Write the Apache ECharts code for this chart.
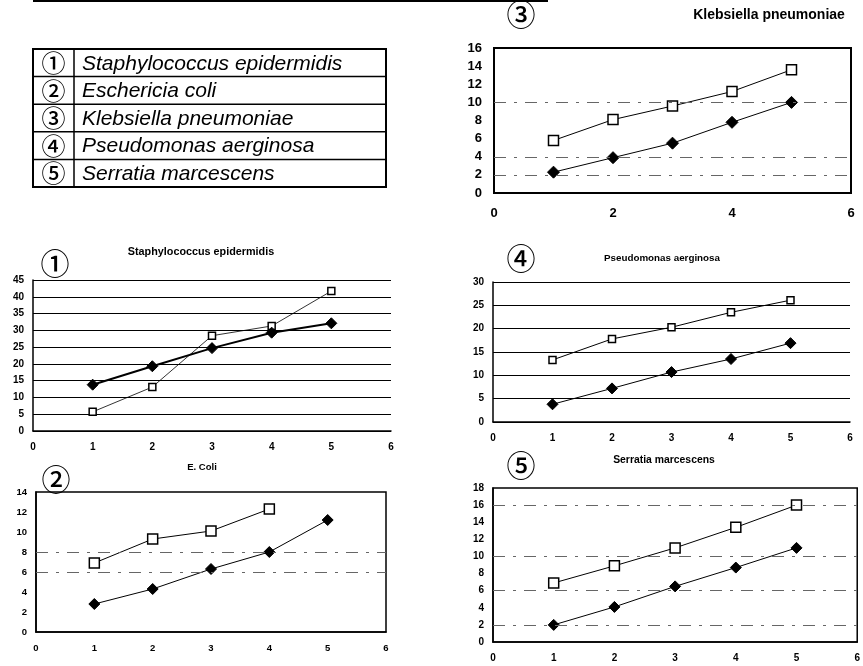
<!DOCTYPE html>
<html>
<head>
<meta charset="utf-8">
<script src="https://cdn.jsdelivr.net/npm/echarts@6/dist/echarts.min.js"></script>
<style>html,body{margin:0;padding:0;background:#fff}#c{width:863px;height:666px}</style>
</head>
<body>
<div id="c"></div>
<script>
// ---- data ----
const xValues = [1, 2, 3, 4, 5];
const legendMarks = ['①', '②', '③', '④', '⑤'];
const legendNames = ['Staphylococcus epidermidis', 'Eschericia coli', 'Klebsiella pneumoniae', 'Pseudomonas aerginosa', 'Serratia marcescens'];
const chartTitles = ['Staphylococcus epidermidis', 'E. Coli', 'Klebsiella pneumoniae', 'Pseudomonas aerginosa', 'Serratia marcescens'];

const staphOpen   = [5.7, 13.1, 28.4, 31.3, 41.7];
const staphFilled = [13.8, 19.3, 24.7, 29.3, 32.1];
const coliOpen    = [6.9, 9.3, 10.1, 12.3, null];
const coliFilled  = [2.8, 4.3, 6.3, 8.0, 11.2];
const klebOpen    = [5.8, 8.1, 9.6, 11.2, 13.6];
const klebFilled  = [2.3, 3.9, 5.5, 7.8, 10.0];
const pseudoOpen  = [13.3, 17.8, 20.3, 23.5, 26.1];
const pseudoFilled= [3.8, 7.2, 10.7, 13.5, 16.9];
const serraOpen   = [6.9, 8.9, 11.0, 13.4, 16.0];
const serraFilled = [2.0, 4.1, 6.5, 8.7, 11.0];

const yMaxes = [45, 14, 16, 30, 18];
const yIntervals = [5, 2, 2, 5, 2];
const xIntervals = [1, 1, 2, 1, 1];
// faint (partially printed) grid lines visible in the scan
const faintGrid = [[], [8, 6], [10, 4, 2], [], [16, 10, 6, 2]];

// ---- layout ----
const grids = [
  {left: 33, top: 280, width: 358, height: 151},
  {left: 36, top: 492, width: 350, height: 140},
  {left: 494, top: 48, width: 357, height: 145},
  {left: 493, top: 282, width: 357, height: 140},
  {left: 493, top: 488, width: 365, height: 154}
];
const boxed = [false, true, true, false, true];
const solidGrid = [true, false, false, true, false];
const labelSize = [10, 9.5, 13, 10, 10];
const titlePos = [[201, 252, 10.8], [202, 467, 9.5], [769, 15, 14], [662, 258, 9.8], [664, 460, 10.4]];
const markPos = [[55, 264], [56, 480], [521, 15], [521, 259], [521, 466]];
const seriesPairs = [[staphOpen, staphFilled], [coliOpen, coliFilled], [klebOpen, klebFilled], [pseudoOpen, pseudoFilled], [serraOpen, serraFilled]];

const FONT = 'Liberation Sans, Arial, sans-serif';
const CJK = 'Noto Sans CJK JP, sans-serif';

const option = {
  backgroundColor: '#fff',
  animation: false,
  grid: grids.map((g, i) => Object.assign({}, g, {
    show: boxed[i], borderColor: '#000', borderWidth: i === 2 ? 2 : 1.5, containLabel: false
  })),
  xAxis: grids.map((g, i) => ({
    type: 'value', gridIndex: i, min: 0, max: 6, interval: xIntervals[i],
    axisLine: {show: true, onZero: false, lineStyle: {color: '#000', width: 1.5}},
    axisTick: {show: false},
    splitLine: {show: false},
    axisLabel: {color: '#000', fontWeight: 'bold', fontFamily: FONT, fontSize: labelSize[i], margin: i === 2 ? 14 : 11}
  })),
  yAxis: grids.map((g, i) => ({
    type: 'value', gridIndex: i, min: 0, max: yMaxes[i], interval: yIntervals[i],
    axisLine: {show: true, lineStyle: {color: '#000', width: 1.5}},
    axisTick: {show: false},
    splitLine: {show: solidGrid[i], lineStyle: {color: '#000', width: 1}},
    axisLabel: {color: '#000', fontWeight: 'bold', fontFamily: FONT, fontSize: labelSize[i], margin: i === 2 ? 12 : 9}
  })),
  series: []
};

seriesPairs.forEach((pair, i) => {
  const big = i === 2 || i === 1 || i === 4;
  option.series.push({
    type: 'line', xAxisIndex: i, yAxisIndex: i, name: 'open' + (i + 1),
    data: xValues.map((x, k) => [x, pair[0][k]]).filter(d => d[1] != null),
    symbol: 'rect', symbolSize: big ? 10 : 7,
    lineStyle: {color: '#000', width: i === 0 ? 0.8 : 1},
    itemStyle: {color: '#fff', borderColor: '#000', borderWidth: 1.5},
    z: 3,
    markLine: faintGrid[i].length ? {
      silent: true, symbol: 'none', label: {show: false},
      lineStyle: {color: '#666', width: 1, type: [12, 8, 3, 8]},
      data: faintGrid[i].map(v => ({yAxis: v}))
    } : undefined
  });
  option.series.push({
    type: 'line', xAxisIndex: i, yAxisIndex: i, name: 'filled' + (i + 1),
    data: xValues.map((x, k) => [x, pair[1][k]]),
    symbol: 'diamond', symbolSize: i === 2 ? 12 : 11,
    lineStyle: {color: '#000', width: i === 0 ? 2 : 1},
    itemStyle: {color: '#000', borderColor: '#000'},
    z: 4
  });
});

// graphics: legend table, chart titles, circled numbers
const g = [];
// cut-off line at very top
g.push({type: 'line', shape: {x1: 33, y1: 1, x2: 548, y2: 1}, style: {stroke: '#000', lineWidth: 2}});
const tL = 33, tR = 386, tT = 49, rowH = 27.6, divX = 74;
g.push({type: 'rect', shape: {x: tL, y: tT, width: tR - tL, height: rowH * 5}, style: {fill: 'none', stroke: '#000', lineWidth: 2}});
g.push({type: 'line', shape: {x1: divX, y1: tT, x2: divX, y2: tT + rowH * 5}, style: {stroke: '#000', lineWidth: 1.5}});
for (let r = 1; r < 5; r++) {
  g.push({type: 'line', shape: {x1: tL, y1: tT + rowH * r, x2: tR, y2: tT + rowH * r}, style: {stroke: '#000', lineWidth: 1.5}});
}
legendNames.forEach((name, r) => {
  const cy = tT + rowH * r + rowH / 2;
  g.push({type: 'text', x: 53.5, y: cy, style: {text: legendMarks[r], font: '500 24px ' + CJK, fill: '#000', textAlign: 'center', textVerticalAlign: 'middle'}});
  g.push({type: 'text', x: 82, y: cy + 1, style: {text: name, font: 'italic 21px ' + FONT, fill: '#000', textAlign: 'left', textVerticalAlign: 'middle'}});
});
chartTitles.forEach((t, i) => {
  const p = titlePos[i];
  g.push({type: 'text', x: p[0], y: p[1], style: {text: t, font: 'bold ' + p[2] + 'px ' + FONT, fill: '#000', textAlign: 'center', textVerticalAlign: 'middle'}});
  const m = markPos[i];
  g.push({type: 'text', x: m[0], y: m[1], style: {text: legendMarks[i], font: '500 29px ' + CJK, fill: '#000', textAlign: 'center', textVerticalAlign: 'middle'}});
});
option.graphic = g;

const chart = echarts.init(document.getElementById('c'), null, {renderer: 'canvas'});
chart.setOption(option);
</script>
</body>
</html>
